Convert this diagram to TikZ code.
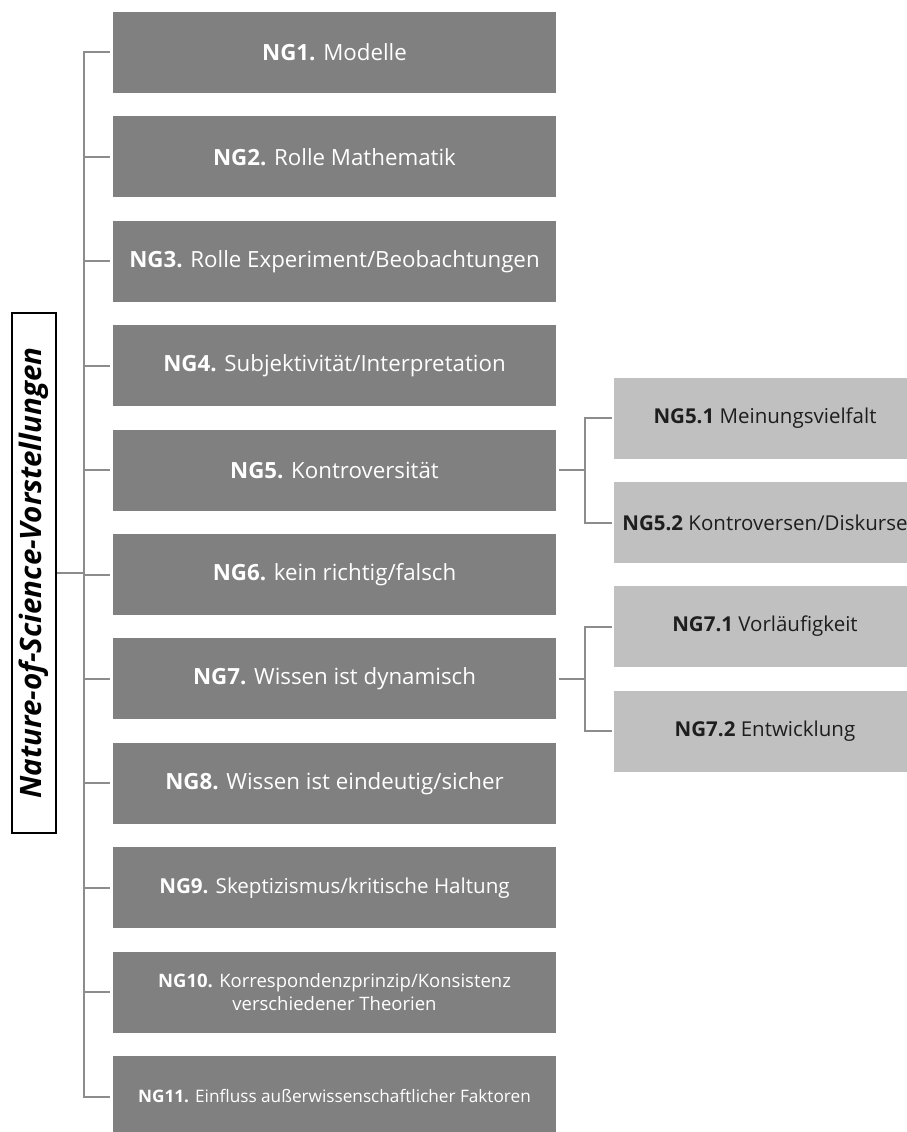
\documentclass[tikz,border=0pt]{standalone}
\usepackage{fontspec}
\setmainfont{Open Sans}
\definecolor{mainfill}{HTML}{808080}
\definecolor{subfill}{HTML}{C0C0C0}
\definecolor{linkgray}{HTML}{8C8C8C}
\definecolor{subtext}{HTML}{1E1E1E}
\newcommand{\fs}[1]{\fontsize{#1}{1.25\dimexpr#1pt\relax}\selectfont}
\begin{document}
\begin{tikzpicture}[x=1pt,y=-1pt,
  mainbox/.style={fill=mainfill, text=white, minimum width=443pt, minimum height=81pt,
    inner sep=0pt, align=center, font=\fs{22.3}},
  subbox/.style={fill=subfill, text=subtext, minimum width=302pt, minimum height=81pt,
    inner sep=0pt, align=center, font=\fs{20.5}},
  labelbox/.style={draw=black, line width=2pt, fill=white, rotate=90,
    minimum width=520pt, minimum height=44pt, inner sep=0pt,
    font=\fs{29.5}\bfseries\itshape},
  link/.style={draw=linkgray, line width=2pt}]
\useasboundingbox (0,0) rectangle (907,1132);

% main category boxes
\node[mainbox] (n1)  at (334.5,  52.5) {\textbf{NG1.} Modelle};
\node[mainbox] (n2)  at (334.5, 156.9) {\textbf{NG2.} Rolle Mathematik};
\node[mainbox] (n3)  at (334.5, 261.3) {\textbf{NG3.} Rolle Experiment/Beobachtungen};
\node[mainbox] (n4)  at (334.5, 365.7) {\textbf{NG4.} Subjektivität/Interpretation};
\node[mainbox] (n5)  at (334.5, 470.1) {\textbf{NG5.} Kontroversität};
\node[mainbox] (n6)  at (334.5, 574.5) {\textbf{NG6.} kein richtig/falsch};
\node[mainbox] (n7)  at (334.5, 678.9) {\textbf{NG7.} Wissen ist dynamisch};
\node[mainbox] (n8)  at (334.5, 783.3) {\textbf{NG8.} Wissen ist eindeutig/sicher};
\node[mainbox, font=\fs{20.6}] (n9)  at (334.5, 887.7) {\textbf{NG9.} Skeptizismus/kritische Haltung};
\node[mainbox, font=\fs{18.5}] (n10) at (334.5, 992.1) {\textbf{NG10.} Korrespondenzprinzip/Konsistenz\\verschiedener Theorien};
\node[mainbox, font=\fs{17.2}] (n11) at (334.5,1096.5) {\textbf{NG11.} Einfluss außerwissenschaftlicher Faktoren};

% sub category boxes
\node[subbox] (s51) at (765, 418.0) {\textbf{NG5.1} Meinungsvielfalt};
\node[subbox] (s52) at (765, 522.5) {\textbf{NG5.2} Kontroversen/Diskurse};
\node[subbox] (s71) at (765, 626.5) {\textbf{NG7.1} Vorläufigkeit};
\node[subbox] (s72) at (765, 731.0) {\textbf{NG7.2} Entwicklung};

% root label
\node[labelbox] (root) at (34, 573) {Nature-of-Science-Vorstellungen};

% connector columns
\coordinate (t) at (83.5, 0);
\coordinate (b) at (585, 0);

% trunk and branches to the main boxes
\draw[link] ([xshift=-3pt]n1.west) -- (n1.west -| t) -- (n11.west -| t) -- ([xshift=-3pt]n11.west);
\foreach \i in {2,...,10} {
  \draw[link] ([xshift=-3pt]n\i.west) -- (n\i.west -| t);
}
\draw[link] (root.south) -- (root.south -| t);

% branches to the sub categories
\draw[link] ([xshift=3pt]n5.east) -- (n5.east -| b);
\draw[link] ([xshift=-2pt]s51.west) -- (s51.west -| b) -- (s52.west -| b) -- ([xshift=-2pt]s52.west);
\draw[link] ([xshift=3pt]n7.east) -- (n7.east -| b);
\draw[link] ([xshift=-2pt]s71.west) -- (s71.west -| b) -- (s72.west -| b) -- ([xshift=-2pt]s72.west);
\end{tikzpicture}
\end{document}
